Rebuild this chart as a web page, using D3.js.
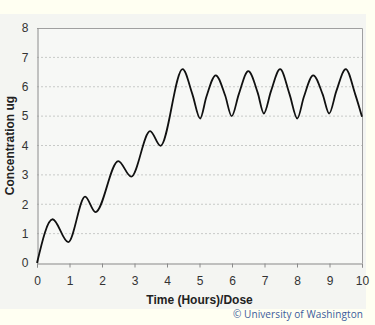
<!DOCTYPE html>
<html>
<head>
<meta charset="utf-8">
<script src="https://cdn.jsdelivr.net/npm/d3@7"></script>
<style>
  html, body { margin: 0; padding: 0; background: #fffff2; }
  svg { display: block; }
</style>
</head>
<body>
<svg id="chart" width="375" height="325"></svg>
<script>
// Drug concentration over repeated doses (hours / dose)
const times = [0, 0.48, 0.96, 1.48, 1.8, 2.5, 2.9, 3.48, 3.8, 4.48,
               4.78, 5.02, 5.21, 5.5, 5.79, 5.99, 6.21, 6.5, 6.79, 6.98,
               7.2, 7.48, 7.77, 8.01, 8.21, 8.5, 8.79, 8.99, 9.21, 9.5, 9.79, 10];
const concentrations = [0, 1.49, 0.71, 2.26, 1.73, 3.47, 2.94, 4.49, 3.99, 6.6,
               5.75, 4.92, 5.65, 6.39, 5.7, 5.0, 5.75, 6.53, 5.8, 5.09,
               5.85, 6.6, 5.75, 4.92, 5.65, 6.39, 5.74, 5.09, 5.85, 6.6, 5.75, 4.98];
const xTicks = [0, 1, 2, 3, 4, 5, 6, 7, 8, 9, 10];
const yTicks = [0, 1, 2, 3, 4, 5, 6, 7, 8];
const xTitle = "Time (Hours)/Dose";
const yTitle = "Concentration ug";
const credit = "\u00A9 University of Washington";

const svg = d3.select("#chart");
const font = "'Liberation Sans', Arial, sans-serif";

// page bands
svg.append("rect").attr("x", 0).attr("y", 0).attr("width", 375).attr("height", 325).attr("fill", "#fffff2");
svg.append("rect").attr("x", 0).attr("y", 14).attr("width", 366).attr("height", 295).attr("fill", "#f4f5f2");

const m = { left: 37, right: 362, top: 28, bottom: 263 };
const x = d3.scaleLinear().domain([0, 10]).range([m.left, m.right]);
const y = d3.scaleLinear().domain([0, 8]).range([m.bottom, m.top]);

// plot background
svg.append("rect")
  .attr("x", m.left).attr("y", m.top)
  .attr("width", m.right - m.left).attr("height", m.bottom - m.top)
  .attr("fill", "#f7f8f6");

// dotted gridlines
svg.append("g").selectAll("line")
  .data(yTicks.filter(d => d > 0 && d < 8))
  .join("line")
  .attr("x1", m.left).attr("x2", m.right)
  .attr("y1", d => y(d)).attr("y2", d => y(d))
  .attr("stroke", "#c8cac8").attr("stroke-width", 1)
  .attr("stroke-dasharray", "2,2");

// frame (top and right)
svg.append("path")
  .attr("d", `M${m.left},${m.top + 0.5}H${m.right + 0.5}V${m.bottom}`)
  .attr("fill", "none").attr("stroke", "#a0a0a0").attr("stroke-width", 1);

// x axis
const xAxis = svg.append("g")
  .attr("transform", `translate(0,${m.bottom + 0.5})`)
  .call(d3.axisBottom(x).tickValues(xTicks).tickSize(4).tickPadding(9).tickFormat(d3.format("d")));
xAxis.select(".domain").attr("stroke", "#8a8a8a");
xAxis.selectAll(".tick line").attr("stroke", "#8a8a8a");
xAxis.selectAll("text").attr("font-family", font).attr("font-size", 12).attr("fill", "#333");

// y axis
const yAxis = svg.append("g")
  .attr("transform", `translate(${m.left + 0.5},0)`)
  .call(d3.axisLeft(y).tickValues(yTicks).tickSize(0).tickPadding(9).tickFormat(d3.format("d")));
yAxis.select(".domain").attr("stroke", "#8a8a8a");
yAxis.selectAll("text").attr("font-family", font).attr("font-size", 12).attr("fill", "#333");

// concentration curve
const line = d3.line()
  .x((d, i) => x(times[i]))
  .y(d => y(d))
  .curve(d3.curveMonotoneX);
svg.append("path")
  .datum(concentrations)
  .attr("d", line)
  .attr("fill", "none")
  .attr("stroke", "#111")
  .attr("stroke-width", 1.8);

// axis titles
svg.append("text")
  .attr("x", (m.left + m.right) / 2).attr("y", 304)
  .attr("text-anchor", "middle")
  .attr("font-family", font).attr("font-size", 12).attr("font-weight", "bold")
  .attr("fill", "#222")
  .text(xTitle);
svg.append("text")
  .attr("transform", `translate(14,${(m.top + m.bottom) / 2}) rotate(-90)`)
  .attr("text-anchor", "middle")
  .attr("font-family", font).attr("font-size", 12).attr("font-weight", "bold")
  .attr("fill", "#222")
  .text(yTitle);

// credit line
svg.append("text")
  .attr("x", 363).attr("y", 318)
  .attr("text-anchor", "end")
  .attr("font-family", "'Open Sans', sans-serif").attr("font-size", 10)
  .attr("letter-spacing", 0.1)
  .attr("fill", "#3b5b9b")
  .text(credit);
</script>
</body>
</html>
